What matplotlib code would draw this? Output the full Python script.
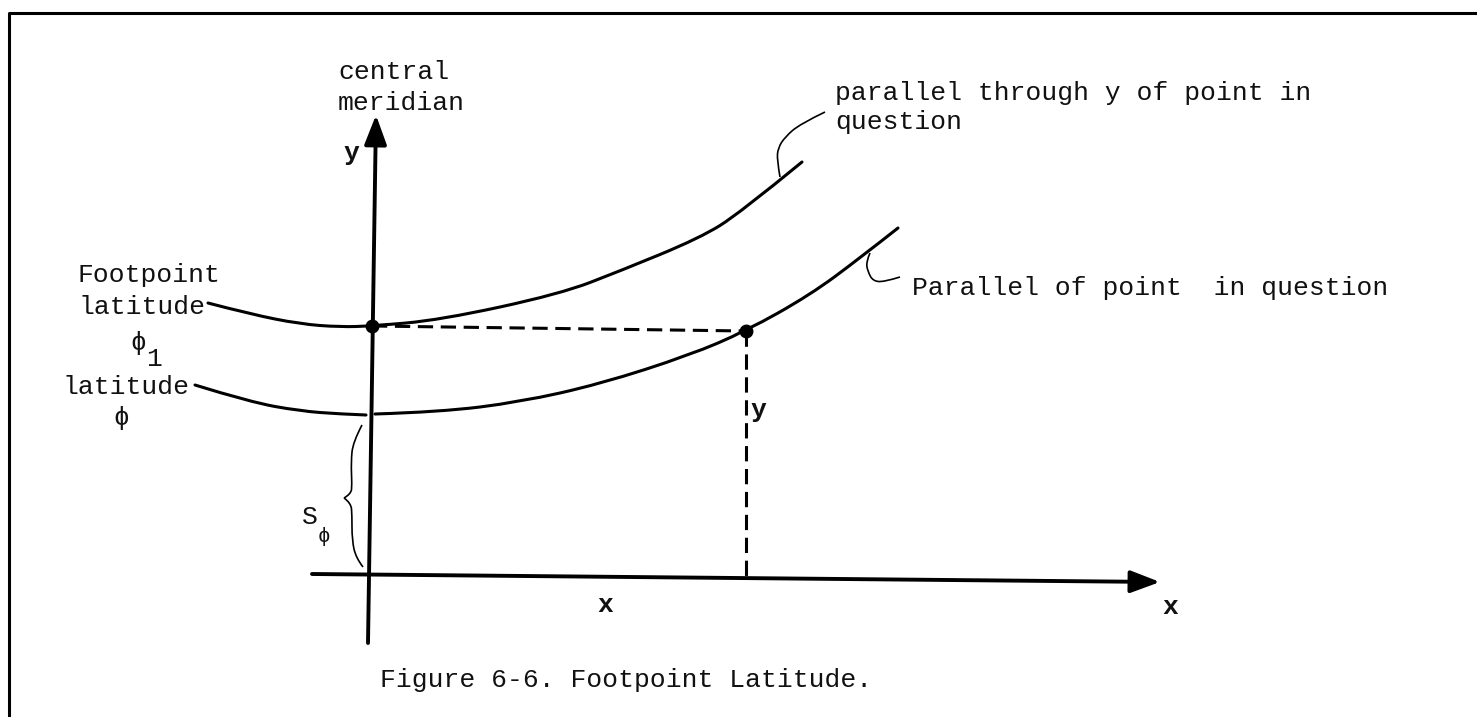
import matplotlib.pyplot as plt
from matplotlib.path import Path
from matplotlib.patches import PathPatch

W, H = 1477, 717
FONT = ['Liberation Mono', 'DejaVu Sans Mono']
FS = 19

# frame of the scanned page (pixel coords, y down)
frame_x = [9, 9, 1477]
frame_y = [717, 13, 13]

# axes of the grid
meridian_x = [368, 376]
meridian_y = [643, 115]
xaxis_x = [312, 1160]
xaxis_y = [574, 582]

# parallel through y (footpoint latitude)
upper_x = [208, 250, 300, 340, 372, 440, 560, 620, 700, 740, 802]
upper_y = [303, 314, 324, 327, 326, 320, 294, 271, 238, 213, 162]

# parallel of the point in question
lower_left_x = [195, 250, 300, 340, 366]
lower_left_y = [385, 402, 411, 414, 415]
lower_right_x = [375, 440, 520, 600, 690, 746, 810, 860, 898]
lower_right_y = [414, 412, 402, 384, 355, 331, 295, 258, 228]

# points
dots_x = [372, 746]
dots_y = [326, 331]

# dashed construction lines
dash_h_x = [372, 746]
dash_h_y = [326, 331]
dash_v_x = [746, 746]
dash_v_y = [331, 578]

# leader to "parallel through y ..."
lead1_x = [780, 777, 778, 785, 800, 825]
lead1_y = [177, 160, 148, 137, 124, 112]
# leader to "Parallel of point in question"
lead2_x = [870, 866, 868, 873, 884, 900]
lead2_y = [253, 262, 272, 281, 282, 277]

# brace for S_phi (two halves meeting at the point)
brace_top_x = [362, 353, 351, 352, 351, 344]
brace_top_y = [425, 442, 462, 485, 494, 498]
brace_bot_x = [344, 351, 352, 352, 356, 363]
brace_bot_y = [498, 503, 515, 540, 558, 567]


def smooth(xs, ys):
    # quadratic bezier chain through the midpoints, read points as controls
    pts = list(zip(xs, ys))
    verts, codes = [pts[0]], [Path.MOVETO]
    for i in range(1, len(pts) - 1):
        if i < len(pts) - 2:
            end = ((pts[i][0] + pts[i + 1][0]) / 2, (pts[i][1] + pts[i + 1][1]) / 2)
        else:
            end = pts[i + 1]
        verts += [pts[i], end]
        codes += [Path.CURVE3, Path.CURVE3]
    return Path(verts, codes)


fig = plt.figure(figsize=(W / 100, H / 100), dpi=100)
ax = fig.add_axes([0, 0, 1, 1])
ax.set_xlim(0, W)
ax.set_ylim(H, 0)
ax.axis('off')

ax.plot(frame_x, frame_y, color='black', lw=2.2, solid_capstyle='butt')

# axes with arrow heads
arrow = dict(arrowstyle='-|>,head_length=0.45,head_width=0.17', color='black',
             lw=2.8, mutation_scale=40, shrinkA=0, shrinkB=0)
ax.annotate('', xy=(meridian_x[1], meridian_y[1]),
            xytext=(meridian_x[0], meridian_y[0]), arrowprops=arrow)
ax.annotate('', xy=(xaxis_x[1], xaxis_y[1]),
            xytext=(xaxis_x[0], xaxis_y[0]), arrowprops=arrow)

for cx, cy in [(upper_x, upper_y), (lower_left_x, lower_left_y),
               (lower_right_x, lower_right_y)]:
    ax.add_patch(PathPatch(smooth(cx, cy), fill=False, edgecolor='black',
                           lw=2.2, capstyle='round'))

ax.plot(dash_h_x, dash_h_y, color='black', lw=2.2, dashes=(5, 2.5))
ax.plot(dash_v_x, dash_v_y, color='black', lw=2.2, dashes=(5, 2.5))
ax.plot(dots_x, dots_y, 'o', color='black', markersize=9)

for lx, ly in [(lead1_x, lead1_y), (lead2_x, lead2_y),
               (brace_top_x, brace_top_y), (brace_bot_x, brace_bot_y)]:
    ax.add_patch(PathPatch(smooth(lx, ly), fill=False, edgecolor='black', lw=1.2))

txt = dict(family=FONT, fontsize=FS, color='#111111', va='center', ha='left')
ax.text(338, 72, 'central', **txt)
ax.text(338, 103, 'meridian', **txt)
ax.text(343, 153, 'y', fontweight='bold', **txt)
ax.text(835, 93, 'parallel through y of point in', **txt)
ax.text(835, 122, 'question', **txt)
ax.text(78, 275, 'Footpoint', **txt)
ax.text(78, 307, 'latitude', **txt)
ax.text(130, 343, '\u03d5', **txt)
ax.text(146, 359, '1', **txt)
ax.text(63, 387, 'latitude', **txt)
ax.text(113, 418, '\u03d5', **txt)
ax.text(302, 517, 'S', **txt)
ax.text(318, 536, '\u03d5', family=FONT, fontsize=15, color='#111111',
        va='center', ha='left')
ax.text(750, 410, 'y', fontweight='bold', **txt)
ax.text(912, 288, 'Parallel of point  in question', **txt)
ax.text(597, 605, 'x', fontweight='bold', **txt)
ax.text(1162, 607, 'x', fontweight='bold', **txt)
ax.text(380, 680, 'Figure 6-6. Footpoint Latitude.', **txt)

fig.savefig('out.png', dpi=100, facecolor='white')
